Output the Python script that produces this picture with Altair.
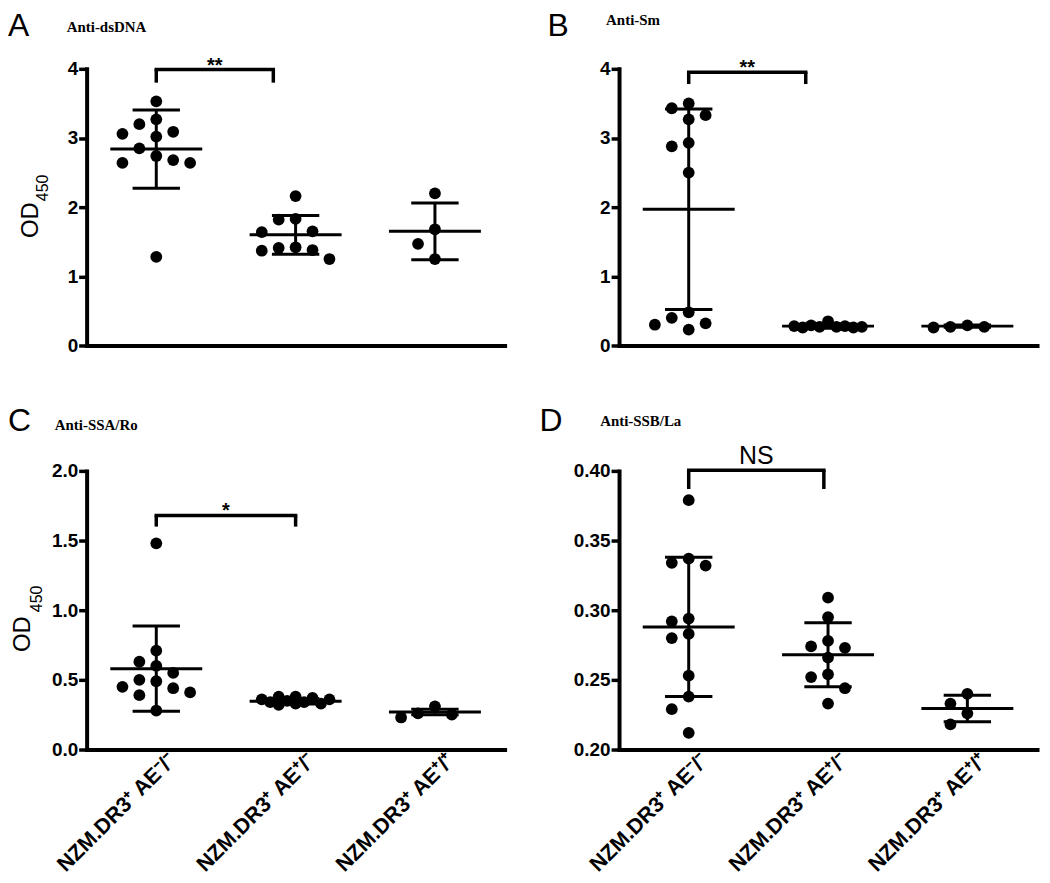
import math
import json
import altair as alt
import pandas as pd

# ---------------- data ----------------
groups = ["NZM.DR3\u207a AE\u207b/\u207b", "NZM.DR3\u207a AE\u207a/\u207b", "NZM.DR3\u207a AE\u207a/\u207a"]

panel_letters = ["A", "B", "C", "D"]
panel_titles = ["Anti-dsDNA", "Anti-Sm", "Anti-SSA/Ro", "Anti-SSB/La"]

# Panel A: anti-dsDNA (OD450)
a_g1 = [3.53, 3.27, 3.20, 3.09, 3.06, 3.02, 2.85, 2.74, 2.68, 2.64, 2.64, 1.28]
a_g2 = [2.16, 1.83, 1.82, 1.65, 1.64, 1.42, 1.41, 1.38, 1.37, 1.25]
a_g3 = [2.20, 1.68, 1.47, 1.25]
a_mean = [2.84, 1.60, 1.65]
a_sd = [0.565, 0.28, 0.41]

# Panel B: anti-Sm
b_g1 = [3.50, 3.43, 3.33, 3.27, 2.93, 2.88, 2.50, 0.48, 0.40, 0.32, 0.30, 0.23]
b_g2 = [0.27, 0.26, 0.28, 0.27, 0.29, 0.35, 0.28, 0.27, 0.26]
b_g3 = [0.27, 0.26, 0.27, 0.29]
b_mean = [1.97, 0.28, 0.28]
b_sd = [1.45, 0.03, 0.015]

# Panel C: anti-SSA/Ro
c_g1 = [1.48, 0.71, 0.63, 0.60, 0.55, 0.50, 0.49, 0.45, 0.44, 0.41, 0.39, 0.28]
c_g2 = [0.36, 0.34, 0.33, 0.38, 0.32, 0.35, 0.38, 0.33, 0.34, 0.36, 0.37]
c_g3 = [0.25, 0.23, 0.26, 0.31]
c_mean = [0.58, 0.346, 0.27]
c_sd = [0.306, 0.02, 0.02]

# Panel D: anti-SSB/La
d_g1 = [0.379, 0.337, 0.334, 0.332, 0.294, 0.292, 0.283, 0.280, 0.253, 0.238, 0.229, 0.212]
d_g2 = [0.309, 0.295, 0.278, 0.274, 0.273, 0.266, 0.254, 0.252, 0.244, 0.233]
d_g3 = [0.240, 0.233, 0.226, 0.218]
d_mean = [0.288, 0.268, 0.2295]
d_sd = [0.050, 0.023, 0.0095]

# significance brackets (group 1 vs group 2)
sig_labels = ["**", "**", "*", "NS"]
bracket_levels = [3.99, 3.95, 1.68, 0.4005]
bracket_lows = [3.80, 3.78, 1.60, 0.387]
bracket_ends = [0.84, 0.84, 1.0, 0.97]

y_domains = [[0, 4], [0, 4], [0, 2], [0.2, 0.4]]
y_ticks = [[0, 1, 2, 3, 4], [0, 1, 2, 3, 4], [0, 0.5, 1, 1.5, 2], [0.2, 0.25, 0.3, 0.35, 0.4]]
y_formats = ["d", "d", ".1f", ".2f"]

# ---------------- layout / style ----------------
W = 420
HEIGHTS = [278, 278, 280, 280]
FONT = "Liberation Sans"
SERIF = "Liberation Serif"


def swarm(values, px_per_unit, step=17.0, d=15.0):
    """GraphPad-like scatter arrangement: spread points that would overlap."""
    order = sorted(range(len(values)), key=lambda i: -values[i])
    placed = []
    offs = [0.0] * len(values)
    primary = [0, -1, 1, -2, 2]
    secondary = [-0.5, 0.5, -1.5, 1.5]
    for i in order:
        y = values[i] * px_per_unit
        best = None
        for k in primary:
            x = k * step
            if all(math.hypot(x - px, y - py) >= d for px, py in placed):
                best = x
                break
        if best is None:
            cands = [k * step for k in primary + secondary]
            best = max(cands, key=lambda x: min(math.hypot(x - px, y - py) for px, py in placed))
        offs[i] = best
        placed.append((best, y))
    return offs


def panel(idx, gvals, means, sds, show_x, od_pos=None):
    h = HEIGHTS[idx]
    ydom = y_domains[idx]
    ppu_y = h / (ydom[1] - ydom[0])
    ppu_x = W / 3.0

    rows = []
    for gi, vals in enumerate(gvals):
        offs = swarm(vals, ppu_y)
        for v, o in zip(vals, offs):
            rows.append({"gi": gi, "v": v, "x": gi + o / ppu_x})
    pts = pd.DataFrame(rows)

    st = pd.DataFrame({"gi": [0, 1, 2], "mean": means, "sd": sds})
    st["lo"] = st["mean"] - st["sd"]
    st["hi"] = st["mean"] + st["sd"]
    st["mx0"] = st["gi"] - 0.33
    st["mx1"] = st["gi"] + 0.33
    st["cx0"] = st["gi"] - 0.17
    st["cx1"] = st["gi"] + 0.17

    br = pd.DataFrame({"x0": [0.0], "x1": [bracket_ends[idx]],
                       "level": [bracket_levels[idx]], "low": [bracket_lows[idx]],
                       "label": [sig_labels[idx]]})
    br["xm"] = (br["x0"] + br["x1"]) / 2
    brv = pd.DataFrame({"bx": [0.0, bracket_ends[idx]],
                        "level": [bracket_levels[idx]] * 2,
                        "low": [bracket_lows[idx]] * 2})

    label_expr = json.dumps(groups, ensure_ascii=False) + "[datum.value]"
    xaxis = alt.Axis(values=[0, 1, 2], labelExpr=label_expr, labels=show_x,
                     labelAngle=-45, labelAlign="right", labelBaseline="top",
                     labelFont=FONT, labelFontSize=21.5, labelFontWeight="bold",
                     labelColor="black", labelPadding=0, labelOffset=8, labelLimit=400,
                     ticks=False, grid=False, title=None,
                     domainColor="black", domainWidth=4, domainCap="square")
    yaxis = alt.Axis(values=y_ticks[idx], format=y_formats[idx], grid=False, title=None,
                     labelFont=FONT, labelFontSize=19, labelFontWeight="bold",
                     labelColor="black", labelPadding=1,
                     tickColor="black", tickWidth=3.5, tickSize=8,
                     domainColor="black", domainWidth=4, domainCap="square")
    xs = alt.Scale(domain=[-0.5, 2.5], nice=False, zero=False)
    ys = alt.Scale(domain=ydom, nice=False, zero=False)

    def X(f):
        return alt.X(f, type="quantitative", scale=xs, axis=xaxis)

    def Y(f):
        return alt.Y(f, type="quantitative", scale=ys, axis=yaxis)

    lw = 3
    layers = []
    layers.append(alt.Chart(pts).mark_circle(size=140, color="black", opacity=1)
                  .encode(x=X("x"), y=Y("v")))
    layers.append(alt.Chart(st).mark_rule(color="black", strokeWidth=lw)
                  .encode(x=X("mx0"), x2="mx1", y=Y("mean")))
    layers.append(alt.Chart(st).mark_rule(color="black", strokeWidth=lw)
                  .encode(x=X("gi"), y=Y("lo"), y2="hi"))
    layers.append(alt.Chart(st).mark_rule(color="black", strokeWidth=lw)
                  .encode(x=X("cx0"), x2="cx1", y=Y("hi")))
    layers.append(alt.Chart(st).mark_rule(color="black", strokeWidth=lw)
                  .encode(x=X("cx0"), x2="cx1", y=Y("lo")))
    layers.append(alt.Chart(br).mark_rule(color="black", strokeWidth=3.5, strokeCap="square")
                  .encode(x=X("x0"), x2="x1", y=Y("level")))
    layers.append(alt.Chart(brv).mark_rule(color="black", strokeWidth=3.5)
                  .encode(x=X("bx"), y=Y("low"), y2="level"))
    if sig_labels[idx] == "NS":
        sig = alt.Chart(br).mark_text(font=FONT, fontSize=25, fontWeight="normal",
                                      baseline="alphabetic", dy=-6, color="black")
    else:
        sig = alt.Chart(br).mark_text(font=FONT, fontSize=20, fontWeight="bold",
                                      baseline="alphabetic", dy=2, color="black")
    layers.append(sig.encode(x=X("xm"), y=Y("level"), text="label:N"))

    # panel letter and antibody title
    lp = [(-79, -33), (-72, -33), (-79, -40), (-80, -40)][idx]
    tp = [(-20, -37), (-13, -44), (-32, -41), (-19, -45)][idx]
    layers.append(alt.Chart(pd.DataFrame({"t": [panel_letters[idx]]}))
                  .mark_text(font=FONT, fontSize=32, align="left", baseline="alphabetic", color="black")
                  .encode(text="t:N", x=alt.value(lp[0]), y=alt.value(lp[1])))
    layers.append(alt.Chart(pd.DataFrame({"t": [panel_titles[idx]]}))
                  .mark_text(font=SERIF, fontSize=15, fontWeight="bold", align="left",
                             baseline="alphabetic", color="black")
                  .encode(text="t:N", x=alt.value(tp[0]), y=alt.value(tp[1])))
    if od_pos is not None:
        (ox, oy, sx, sy) = od_pos
        layers.append(alt.Chart(pd.DataFrame({"t": ["OD"]}))
                      .mark_text(font=FONT, fontSize=24, angle=270, align="left",
                                 baseline="alphabetic", color="black")
                      .encode(text="t:N", x=alt.value(ox), y=alt.value(oy)))
        layers.append(alt.Chart(pd.DataFrame({"t": ["450"]}))
                      .mark_text(font=FONT, fontSize=16, angle=270, align="left",
                                 baseline="alphabetic", color="black")
                      .encode(text="t:N", x=alt.value(sx), y=alt.value(sy)))

    return alt.layer(*layers).properties(width=W, height=h)


pA = panel(0, [a_g1, a_g2, a_g3], a_mean, a_sd, False, od_pos=(-49, 170, -39, 133))
pB = panel(1, [b_g1, b_g2, b_g3], b_mean, b_sd, False)
pC = panel(2, [c_g1, c_g2, c_g3], c_mean, c_sd, True, od_pos=(-57, 182, -45, 142))
pD = panel(3, [d_g1, d_g2, d_g3], d_mean, d_sd, True)

chart = alt.concat(pA, pB, pC, pD, columns=2, spacing={"row": 126, "column": 115},
                   bounds="flush").properties(
    padding={"left": 0, "top": 0, "right": 5, "bottom": 5},
    background="white",
).configure_view(stroke=None)

chart.save("out.html", embed_options={"renderer": "svg", "actions": False})
